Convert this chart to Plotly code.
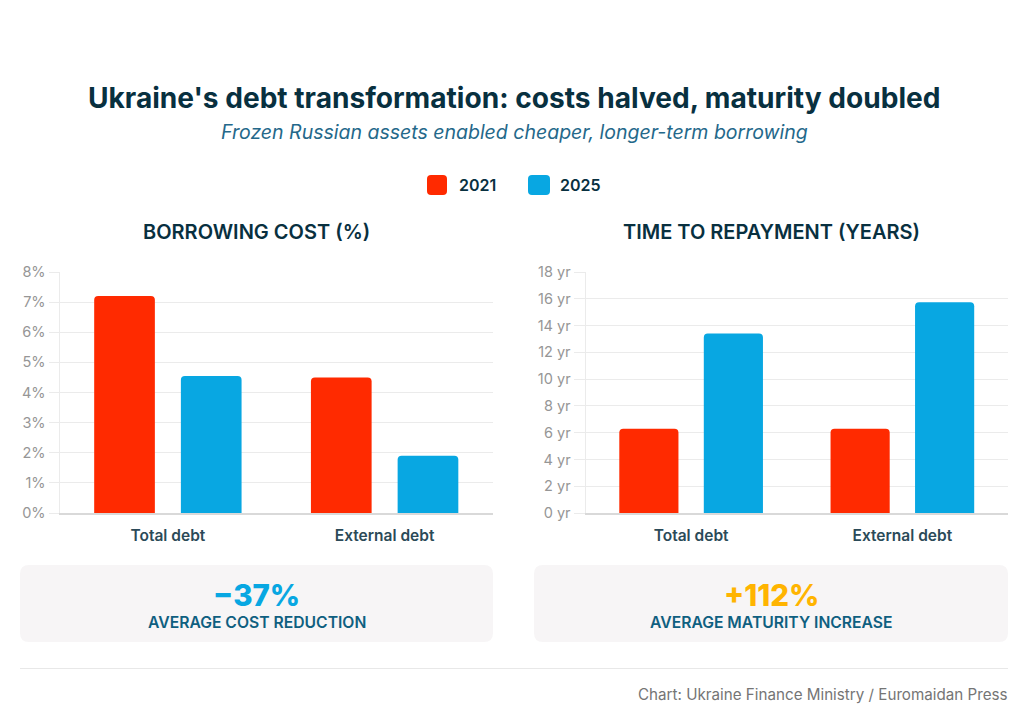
import plotly.graph_objects as go

categories = ["Total debt", "External debt"]
years = ["2021", "2025"]
cost_2021 = [7.2, 4.5]
cost_2025 = [4.55, 1.9]
maturity_2021 = [6.3, 6.3]
maturity_2025 = [13.4, 15.75]
cost_ticks = [0, 1, 2, 3, 4, 5, 6, 7, 8]
cost_labels = ["0%", "1%", "2%", "3%", "4%", "5%", "6%", "7%", "8%"]
maturity_ticks = [0, 2, 4, 6, 8, 10, 12, 14, 16, 18]
maturity_labels = ["0 yr", "2 yr", "4 yr", "6 yr", "8 yr", "10 yr", "12 yr", "14 yr", "16 yr", "18 yr"]

RED = "#FF2A00"
BLUE = "#08A7E2"
DARK = "#08303F"
TEAL = "#0F5F80"
FONT = "Inter"
W, H = 1024, 708

def px(x): return x / W
def py(y): return 1 - y / H

fig = go.Figure()
for name, vals, color, xa, ya in [
    (years[0], cost_2021, RED, "x", "y"),
    (years[1], cost_2025, BLUE, "x", "y"),
    (years[0], maturity_2021, RED, "x2", "y2"),
    (years[1], maturity_2025, BLUE, "x2", "y2"),
]:
    fig.add_trace(go.Bar(x=categories, y=vals, name=name, marker_color=color,
                         marker_line_width=0, xaxis=xa, yaxis=ya, showlegend=False))

def rrect(x0, y0, x1, y1, r, fill):
    X = lambda v: px(v)
    Y = lambda v: py(v)
    path = (f"M {X(x0+r)} {Y(y0)} L {X(x1-r)} {Y(y0)} Q {X(x1)} {Y(y0)} {X(x1)} {Y(y0+r)} "
            f"L {X(x1)} {Y(y1-r)} Q {X(x1)} {Y(y1)} {X(x1-r)} {Y(y1)} "
            f"L {X(x0+r)} {Y(y1)} Q {X(x0)} {Y(y1)} {X(x0)} {Y(y1-r)} "
            f"L {X(x0)} {Y(y0+r)} Q {X(x0)} {Y(y0)} {X(x0+r)} {Y(y0)} Z")
    return dict(type="path", path=path, xref="paper", yref="paper", fillcolor=fill,
                line_width=0, layer="below")

shapes = [
    rrect(20, 565, 493, 642, 9, "#F7F5F6"),
    rrect(534, 565, 1008, 642, 9, "#F7F5F6"),
    rrect(427, 175, 447, 195, 4, RED),
    rrect(528, 175, 550, 195, 4, BLUE),
    dict(type="line", xref="paper", yref="paper", x0=px(20), x1=px(1008), y0=py(668.5), y1=py(668.5),
         line=dict(color="#E8E8E8", width=1)),
]

def note(text, x, y, size, color, weight=400, anchor="center", style="normal"):
    return dict(text=text, x=px(x), y=py(y), xref="paper", yref="paper", showarrow=False,
                xanchor=anchor, yanchor="middle",
                font=dict(family=FONT, size=size, color=color, weight=weight, style=style))

annotations = [
    note("Ukraine's debt transformation: costs halved, maturity doubled", 514, 98, 28.1, DARK, 700),
    note("Frozen Russian assets enabled cheaper, longer-term borrowing", 514, 132, 19.5, "#24688A", 400, style="italic"),
    note(years[0], 457, 185, 16, DARK, 600, "left"),
    note(years[1], 558, 185, 16, DARK, 600, "left"),
    note("BORROWING COST (%)", 256, 232, 20, DARK, 600),
    note("TIME TO REPAYMENT (YEARS)", 771.5, 232, 20, DARK, 600),
    note("−37%", 256.5, 595, 29.5, BLUE, 800),
    note("AVERAGE COST REDUCTION", 256.5, 622, 15.7, TEAL, 600),
    note("+112%", 771.5, 595, 29.5, "#FFB400", 800),
    note("AVERAGE MATURITY INCREASE", 771.5, 622, 15.7, TEAL, 600),
    note("Chart: Ukraine Finance Ministry / Euromaidan Press", 1010, 694, 15.2, "#757575", 400, "right"),
]

fig.update_layout(
    width=W, height=H, margin=dict(l=0, r=0, t=0, b=0, autoexpand=False),
    paper_bgcolor="white", plot_bgcolor="white",
    barmode="group", bargap=0.2, bargroupgap=0.3, barcornerradius=4,
    shapes=shapes, annotations=annotations, showlegend=False,
    font=dict(family=FONT),
)

grid = "#EBEBEB"
xcommon = dict(type="category", showgrid=False, showline=True, linecolor="#D9D9D9", linewidth=1.5,
               ticks="outside", ticklen=8, tickcolor="rgba(0,0,0,0)", automargin=False,
               tickfont=dict(family=FONT, size=15.5, color="#2B4A58", weight=600), fixedrange=True)
ycommon = dict(showgrid=True, gridcolor=grid, gridwidth=1.3, showline=True, linecolor=grid, linewidth=1,
               ticks="outside", tickcolor=grid, tickwidth=1.3, zeroline=False, automargin=False,
               tickfont=dict(family=FONT, size=14.5, color="#969696"), fixedrange=True)
fig.update_layout(
    xaxis=dict(domain=[px(59.5), px(493)], anchor="y", **xcommon),
    xaxis2=dict(domain=[px(585.5), px(1008)], anchor="y2", **xcommon),
    yaxis=dict(domain=[py(513), py(272)], anchor="x", range=[0, 8], tickvals=cost_ticks,
               ticktext=cost_labels, ticklen=10, **ycommon),
    yaxis2=dict(domain=[py(513), py(272)], anchor="x2", range=[0, 18], tickvals=maturity_ticks,
                ticktext=maturity_labels, ticklen=11, **ycommon),
)

fig.write_html("out.html", config={"displayModeBar": False},
               post_script="document.body.style.margin='0';")
